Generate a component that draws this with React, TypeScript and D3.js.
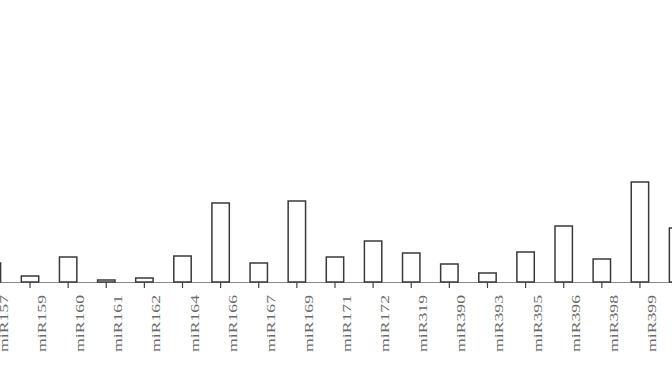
import React, { useEffect, useRef } from 'react';
import * as d3 from 'd3';

// miRNA families (the first and last are cut by the frame)
const mirnas = [
  'miR157', 'miR159', 'miR160', 'miR161', 'miR162', 'miR164', 'miR166',
  'miR167', 'miR169', 'miR171', 'miR172', 'miR319', 'miR390', 'miR393',
  'miR395', 'miR396', 'miR398', 'miR399', 'miR408',
];

// relative abundance
const abundance = [
  19, 6, 25, 2, 4, 26, 79, 19, 81, 25, 41, 29, 18, 9, 30, 56, 23, 100, 54,
];

const W = 672;
const H = 372;

export default function App() {
  const svgRef = useRef<SVGSVGElement>(null);

  useEffect(() => {
    if (!svgRef.current) return;
    const svg = d3.select(svgRef.current);
    svg.selectAll('*').remove();

    const data = mirnas.map((name, i) => ({ name, value: abundance[i] }));

    const baseY = 282;
    const step = 38.12;
    const start = -8.1 - step / 2;
    const pad = 1 - 17.4 / step;

    const x = d3.scaleBand<string>()
      .domain(mirnas)
      .range([start, start + step * mirnas.length])
      .paddingInner(pad)
      .paddingOuter(pad / 2);

    const y = d3.scaleLinear().domain([0, 100]).range([baseY, 182]);

    // baseline
    svg.append('line')
      .attr('x1', 0).attr('x2', W)
      .attr('y1', baseY + 0.5).attr('y2', baseY + 0.5)
      .attr('stroke', '#8a8a8a')
      .attr('stroke-width', 1.2);

    // bars
    svg.selectAll('.bar')
      .data(data)
      .join('rect')
      .attr('class', 'bar')
      .attr('x', d => x(d.name)!)
      .attr('y', d => y(d.value))
      .attr('width', x.bandwidth())
      .attr('height', d => baseY - y(d.value))
      .attr('fill', '#fff')
      .attr('stroke', '#3a3a3a')
      .attr('stroke-width', 1.5);

    // ticks
    svg.selectAll('.tick')
      .data(data)
      .join('line')
      .attr('class', 'tick')
      .attr('x1', d => x(d.name)! + x.bandwidth() / 2)
      .attr('x2', d => x(d.name)! + x.bandwidth() / 2)
      .attr('y1', baseY)
      .attr('y2', baseY + 6)
      .attr('stroke', '#444')
      .attr('stroke-width', 1.2);

    // labels, rotated and stretched like the scanned figure
    svg.selectAll('.label')
      .data(data)
      .join('text')
      .attr('class', 'label')
      .attr('transform', d => {
        const cx = x(d.name)! + x.bandwidth() / 2 + 16;
        return `translate(${cx},295) rotate(-90) scale(1.36,1)`;
      })
      .attr('text-anchor', 'end')
      .attr('font-family', '"Liberation Serif", "DejaVu Serif", serif')
      .attr('font-size', 13)
      .attr('fill', '#6a6a6a')
      .text(d => d.name);
  }, []);

  return (
    <svg
      ref={svgRef}
      width={W}
      height={H}
      style={{ position: 'fixed', left: 0, top: 0, background: '#fff' }}
    />
  );
}
